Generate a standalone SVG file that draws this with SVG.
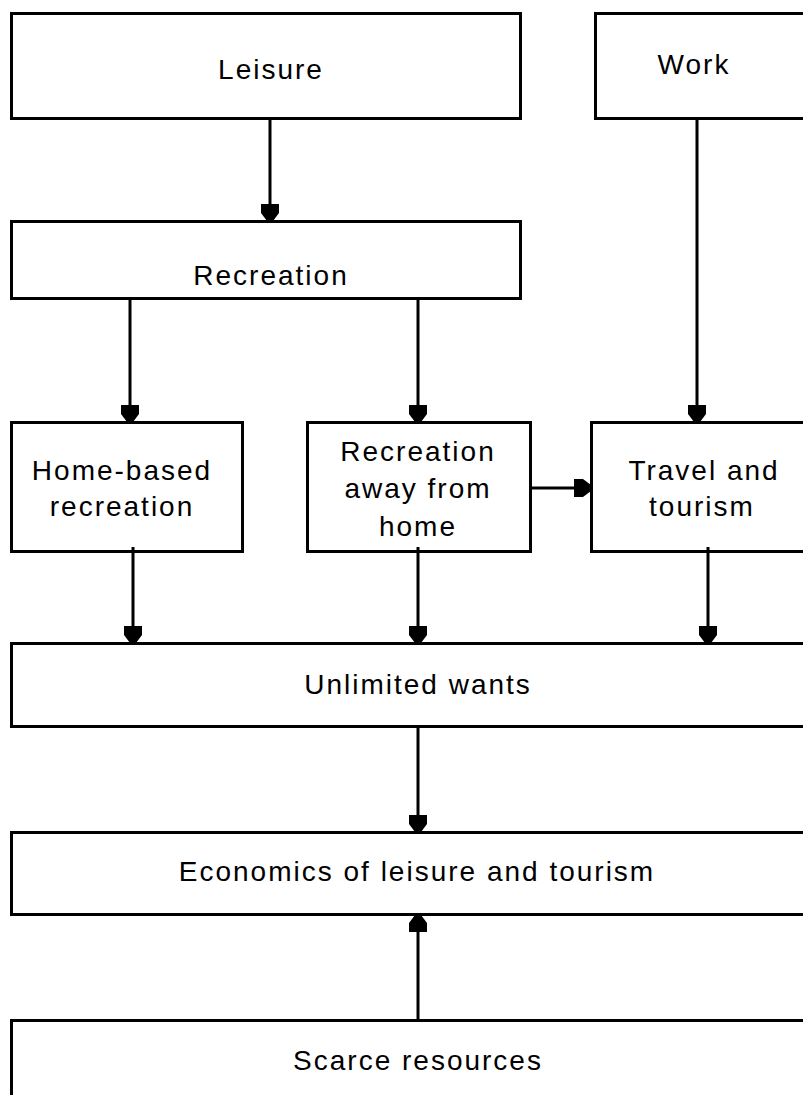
<svg xmlns="http://www.w3.org/2000/svg" width="803" height="1095" viewBox="0 0 803 1095">
<style>
.box{fill:#fff;stroke:#000;stroke-width:3}
.lbl{font-family:"Liberation Sans",Arial,sans-serif;font-size:28px;letter-spacing:2px;fill:#000;text-anchor:middle}
.con{stroke:#000;stroke-width:3;fill:none;marker-end:url(#ah)}
</style>
<defs>
<marker id="ah" viewBox="0 0 17 18" refX="17" refY="9" markerWidth="17" markerHeight="18" markerUnits="userSpaceOnUse" orient="auto">
<path d="M0,0 H9 L17,6 V12 L9,18 H0 Z" fill="#000"/>
</marker>
</defs>
<rect width="803" height="1095" fill="#fff"/>
<g id="leisure"><rect class="box" x="11.5" y="13.5" width="509" height="105"/><text class="lbl" x="271" y="79">Leisure</text></g>
<g id="work"><rect class="box" x="595.5" y="13.5" width="220" height="105"/><text class="lbl" x="694" y="74">Work</text></g>
<g id="recreation"><rect class="box" x="11.5" y="221.5" width="509" height="77"/><text class="lbl" x="271" y="285">Recreation</text></g>
<g id="home-based"><rect class="box" x="11.5" y="422.5" width="231" height="129"/><text class="lbl" x="122" y="480">Home-based</text><text class="lbl" x="122" y="516">recreation</text></g>
<g id="away"><rect class="box" x="307.5" y="422.5" width="223" height="129"/><text class="lbl" x="418" y="461">Recreation</text><text class="lbl" x="418" y="498">away from</text><text class="lbl" x="418" y="536">home</text></g>
<g id="travel"><rect class="box" x="591.5" y="422.5" width="224" height="129"/><text class="lbl" x="704" y="480">Travel and</text><text class="lbl" x="702" y="516">tourism</text></g>
<g id="unlimited"><rect class="box" x="11.5" y="643.5" width="804" height="83"/><text class="lbl" x="418" y="694">Unlimited wants</text></g>
<g id="economics"><rect class="box" x="11.5" y="832.5" width="804" height="82"/><text class="lbl" x="417" y="881">Economics of leisure and tourism</text></g>
<g id="scarce"><rect class="box" x="11.5" y="1020.5" width="804" height="90"/><text class="lbl" x="418" y="1070">Scarce resources</text></g>
<g id="connectors">
<line class="con" x1="270" y1="119" x2="270" y2="221"/>
<line class="con" x1="697" y1="119" x2="697" y2="422"/>
<line class="con" x1="130" y1="299" x2="130" y2="422"/>
<line class="con" x1="418" y1="299" x2="418" y2="422"/>
<line class="con" x1="531" y1="488" x2="591" y2="488"/>
<line class="con" x1="133" y1="547" x2="133" y2="643"/>
<line class="con" x1="418" y1="547" x2="418" y2="643"/>
<line class="con" x1="708" y1="547" x2="708" y2="643"/>
<line class="con" x1="418" y1="727" x2="418" y2="832"/>
<line class="con" x1="418" y1="1020" x2="418" y2="915"/>
</g>
</svg>
